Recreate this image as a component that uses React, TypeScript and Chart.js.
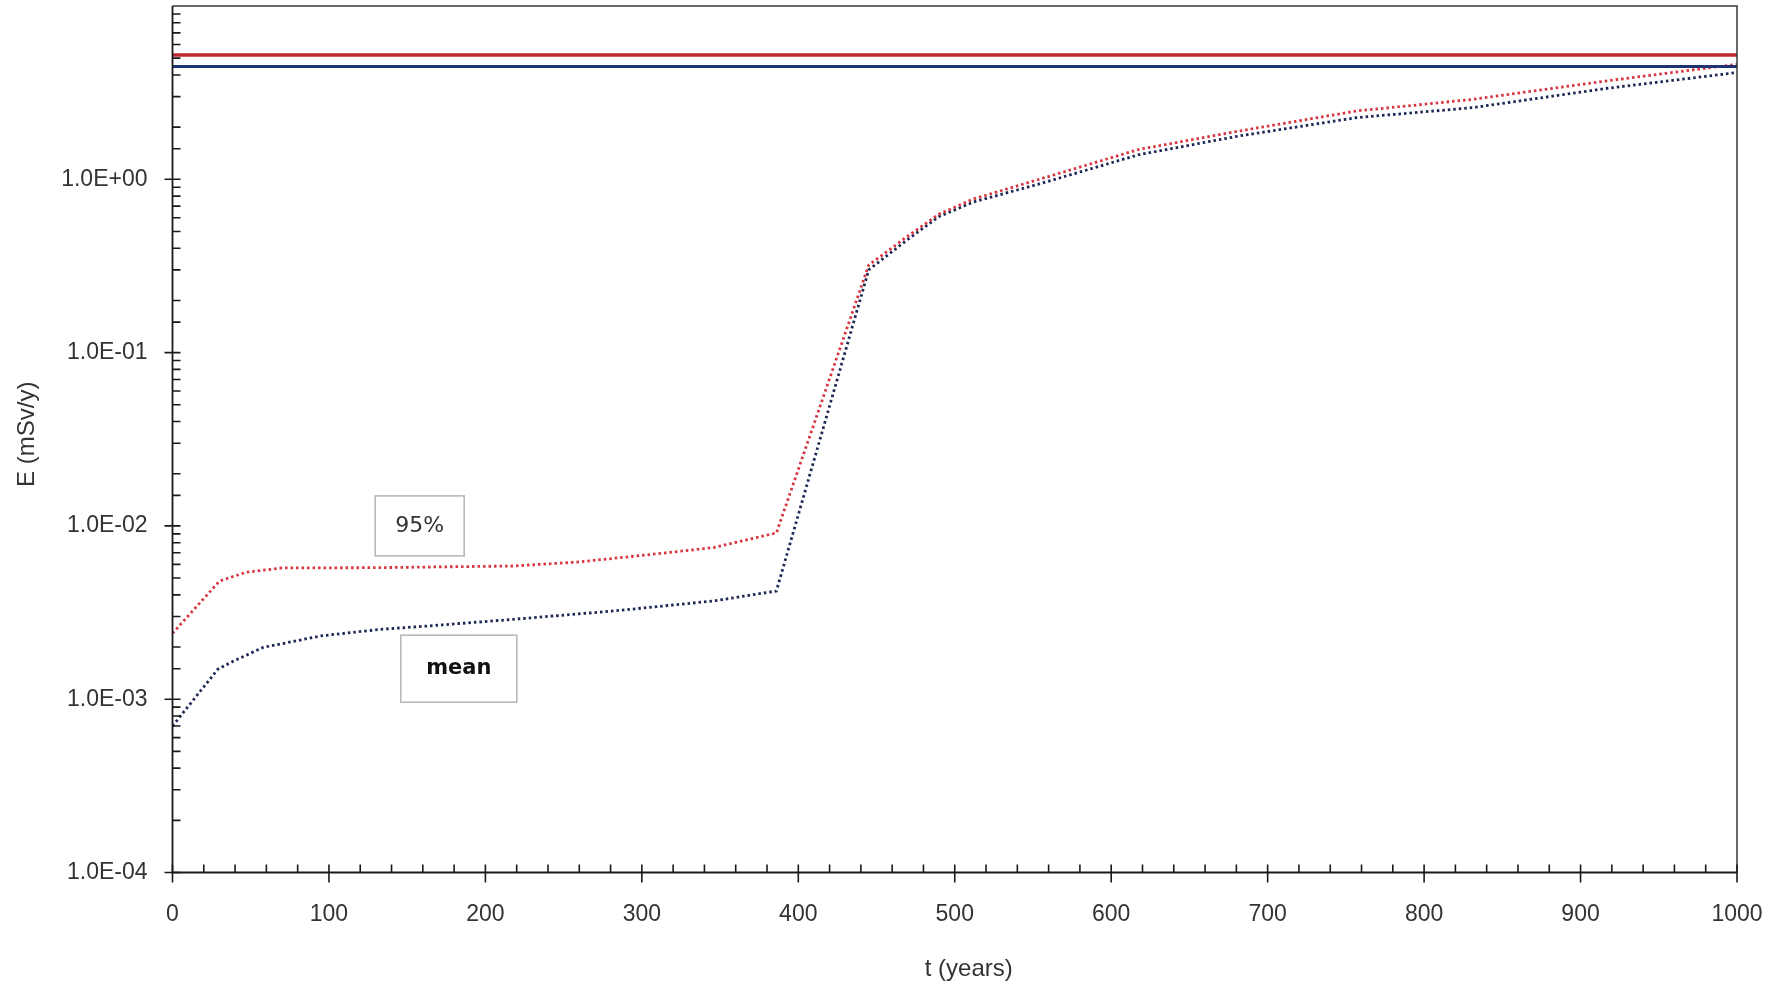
import React, { useEffect, useRef } from 'react';
import { Chart, registerables } from 'chart.js';

Chart.register(...registerables);

// ---- data ----
const tYears95 = [0, 30, 47, 70, 130, 218, 260, 303, 346, 386, 445, 470, 490, 512, 554, 618, 682, 757, 831, 916, 1000];
const dose95 = [2.4e-3, 4.8e-3, 5.4e-3, 5.72e-3, 5.74e-3, 5.87e-3, 6.2e-3, 6.8e-3, 7.5e-3, 9.1e-3, 0.32, 0.47, 0.63, 0.77, 1.0, 1.49, 1.9, 2.48, 2.89, 3.69, 4.61];

const tYearsMean = [0, 29, 39, 58, 95, 133, 162, 218, 282, 346, 386, 445, 470, 490, 512, 554, 618, 682, 757, 831, 916, 1000];
const doseMean = [7.0e-4, 1.49e-3, 1.66e-3, 1.99e-3, 2.32e-3, 2.53e-3, 2.64e-3, 2.89e-3, 3.23e-3, 3.69e-3, 4.21e-3, 0.3, 0.45, 0.61, 0.74, 0.94, 1.39, 1.78, 2.27, 2.59, 3.34, 4.13];

const limitTimes = [0, 1000];
const limit95 = [5.21, 5.21];
const limitMean = [4.47, 4.47];

const xMin = 0;
const xMax = 1000;
const xMajorStep = 100;
const xMinorStep = 20;
const yMin = 1e-4;
const yMax = 10;
const yLabelDecades = [1e-4, 1e-3, 1e-2, 1e-1, 1];

const boxTexts = ['95%', 'mean'];
const boxT = [158, 183];
const boxE = [1.0e-2, 1.5e-3];

const xTitle = 't (years)';
const yTitle = 'E (mSv/y)';

const toPts = (xs: number[], ys: number[]) => xs.map((x, i) => ({ x, y: ys[i] }));

const fmtSci = (v: number) => {
  const e = Math.floor(Math.log10(v) + 1e-9);
  const m = v / Math.pow(10, e);
  const sign = e < 0 ? '-' : '+';
  return `${m.toFixed(1)}E${sign}${String(Math.abs(e)).padStart(2, '0')}`;
};

const isDecadeLabel = (v: number) => yLabelDecades.some((d) => Math.abs(v / d - 1) < 1e-6);

const zeroPad = (scale: any) => {
  scale.paddingTop = 0;
  scale.paddingBottom = 0;
  scale.paddingLeft = 0;
  scale.paddingRight = 0;
};

const framePlugin = {
  id: 'framePlugin',
  afterDatasetsDraw(chart: any) {
    const { ctx } = chart;
    const xs = chart.scales.x;
    boxTexts.forEach((txt, i) => {
      const cx = xs.getPixelForValue(boxT[i]);
      const cy = chart.scales.y.getPixelForValue(boxE[i]);
      const w = i === 0 ? 89 : 116;
      const h = i === 0 ? 60 : 67;
      ctx.save();
      ctx.fillStyle = '#ffffff';
      ctx.fillRect(cx - w / 2, cy - h / 2, w, h);
      ctx.strokeStyle = '#b4b4b4';
      ctx.lineWidth = 1.5;
      ctx.strokeRect(cx - w / 2, cy - h / 2, w, h);
      ctx.fillStyle = i === 0 ? '#333333' : '#111111';
      ctx.font = i === 0 ? '22px "DejaVu Sans", Verdana, sans-serif' : 'bold 21px "DejaVu Sans", Verdana, sans-serif';
      ctx.textAlign = 'center';
      ctx.textBaseline = 'middle';
      ctx.fillText(txt, cx, cy);
      ctx.restore();
    });
  },
  afterDraw(chart: any) {
    const { ctx, chartArea } = chart;
    const { left, right, top, bottom } = chartArea;
    const xs = chart.scales.x;
    const ys = chart.scales.y;
    ctx.save();
    ctx.strokeStyle = '#3a3a3a';
    ctx.lineWidth = 1.5;
    ctx.beginPath();
    ctx.moveTo(left, top);
    ctx.lineTo(right, top);
    ctx.lineTo(right, bottom);
    ctx.stroke();
    ctx.strokeStyle = '#1a1a1a';
    ctx.lineWidth = 1.8;
    ctx.beginPath();
    ctx.moveTo(left, top);
    ctx.lineTo(left, bottom);
    ctx.lineTo(right, bottom);
    ctx.stroke();
    ctx.lineWidth = 1.6;
    ctx.beginPath();
    for (let v = xMin; v <= xMax + 1e-9; v += xMinorStep) {
      const px = xs.getPixelForValue(v);
      if (Math.abs(v % xMajorStep) < 1e-9) {
        ctx.moveTo(px, bottom - 8);
        ctx.lineTo(px, bottom + 10);
      } else {
        ctx.moveTo(px, bottom - 8);
        ctx.lineTo(px, bottom);
      }
    }
    ys.ticks.forEach((t: any) => {
      const v = t.value;
      if (v >= yMax * 0.999) return;
      const py = ys.getPixelForValue(v);
      if (isDecadeLabel(v)) {
        ctx.moveTo(left - 8, py);
        ctx.lineTo(left + 8, py);
      } else {
        ctx.moveTo(left, py);
        ctx.lineTo(left + 8, py);
      }
    });
    ctx.stroke();

    // axis titles
    ctx.fillStyle = '#333333';
    ctx.font = '24px "Liberation Sans", Arial, sans-serif';
    ctx.textAlign = 'center';
    ctx.textBaseline = 'middle';
    ctx.fillText(xTitle, (left + right) / 2 + 14, chart.height - 17);
    ctx.translate(27.5, (top + bottom) / 2 - 5);
    ctx.rotate(-Math.PI / 2);
    ctx.fillText(yTitle, 0, 0);
    ctx.restore();
  },
};

export default function App() {
  const ref = useRef<HTMLCanvasElement | null>(null);

  useEffect(() => {
    if (!ref.current) return;
    const tickFont = { family: '"Liberation Sans", Arial, sans-serif', size: 23 };
    const chart = new Chart(ref.current, {
      type: 'line',
      data: {
        datasets: [
          {
            label: '95% limit',
            data: toPts(limitTimes, limit95),
            borderColor: '#c0282f',
            borderWidth: 3.5,
            pointRadius: 0,
            fill: false,
          },
          {
            label: 'mean limit',
            data: toPts(limitTimes, limitMean),
            borderColor: '#1f3272',
            borderWidth: 3,
            pointRadius: 0,
            fill: false,
          },
          {
            label: '95%',
            data: toPts(tYears95, dose95),
            borderColor: '#d9343d',
            borderWidth: 2.8,
            borderDash: [2.5, 3],
            borderCapStyle: 'butt',
            pointRadius: 0,
            tension: 0,
            fill: false,
          },
          {
            label: 'mean',
            data: toPts(tYearsMean, doseMean),
            borderColor: '#1b2655',
            borderWidth: 2.8,
            borderDash: [2.5, 3],
            borderCapStyle: 'butt',
            pointRadius: 0,
            tension: 0,
            fill: false,
          },
        ],
      },
      options: {
        animation: false,
        responsive: false,
        devicePixelRatio: 1,
        layout: { padding: { top: 6, right: 42, left: 0, bottom: 0 } },
        plugins: {
          legend: { display: false },
          tooltip: { enabled: false },
        },
        scales: {
          x: {
            type: 'linear',
            min: xMin,
            max: xMax,
            grid: { display: false, drawTicks: false },
            border: { display: false },
            ticks: {
              stepSize: xMajorStep,
              autoSkip: false,
              maxRotation: 0,
              padding: 28,
              color: '#333333',
              font: tickFont,
              callback: (v: any) => String(v),
            },
            title: { display: false },
            afterFit: (scale: any) => {
              scale.height = 113.5;
              zeroPad(scale);
            },
          },
          y: {
            type: 'logarithmic',
            min: yMin,
            max: yMax,
            grid: { display: false, drawTicks: false },
            border: { display: false },
            ticks: {
              autoSkip: false,
              padding: 25,
              color: '#333333',
              font: tickFont,
              callback: (v: any) => (isDecadeLabel(Number(v)) ? fmtSci(Number(v)) : ''),
            },
            title: { display: false },
            afterFit: (scale: any) => {
              scale.width = 172.5;
              zeroPad(scale);
            },
          },
        },
      },
      plugins: [framePlugin],
    } as any);
    return () => chart.destroy();
  }, []);

  return (
    <div style={{ position: 'absolute', left: 0, top: 0, width: 1779, height: 986, background: '#ffffff' }}>
      <canvas ref={ref} width={1779} height={986} style={{ display: 'block' }} />
    </div>
  );
}
